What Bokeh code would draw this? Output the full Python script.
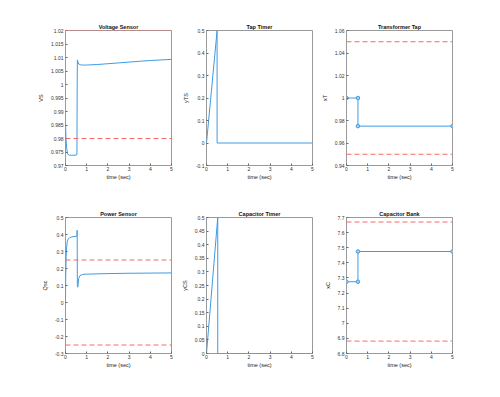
from bokeh.plotting import figure
from bokeh.layouts import column, row
from bokeh.models import Span, FixedTicker
from bokeh.embed import file_html
from bokeh.resources import INLINE

# ---------------- data ----------------
x_ticks = [0, 1, 2, 3, 4, 5]

# Voltage Sensor
t_v = [0, 0.02, 0.04, 0.06, 0.08, 0.1, 0.15, 0.2, 0.3, 0.4, 0.5, 0.54, 0.55, 0.56,
       0.58, 0.62, 0.7, 0.8, 1.0, 1.5, 2, 2.5, 3, 3.5, 4, 4.5, 5]
v_s = [0.9855, 0.981, 0.978, 0.9762, 0.975, 0.9743, 0.9739, 0.9738, 0.9738, 0.9738,
       0.9739, 0.9740, 0.9990, 1.0091, 1.0085, 1.0076, 1.0073, 1.0072, 1.0072, 1.0074,
       1.0077, 1.0080, 1.0083, 1.0086, 1.0089, 1.0091, 1.0093]
v_limits = [0.98, 1.02]
v_ticks = [0.97, 0.975, 0.98, 0.985, 0.99, 0.995, 1.0, 1.005, 1.01, 1.015, 1.02]
v_labels = ["0.97", "0.975", "0.98", "0.985", "0.99", "0.995", "1", "1.005", "1.01", "1.015", "1.02"]

# Tap Timer
t_tt = [0, 0.5, 0.5, 5]
y_tt = [0, 0.5, 0, 0]
tt_ticks = [-0.1, 0.0, 0.1, 0.2, 0.3, 0.4, 0.5]
tt_labels = ["-0.1", "0", "0.1", "0.2", "0.3", "0.4", "0.5"]

# Transformer Tap
t_xt = [0, 0.54, 0.54, 5]
y_xt = [1.0, 1.0, 0.975, 0.975]
xt_limits = [0.95, 1.05]
xt_ticks = [0.94, 0.96, 0.98, 1.0, 1.02, 1.04, 1.06]
xt_labels = ["0.94", "0.96", "0.98", "1", "1.02", "1.04", "1.06"]

# Power Sensor
t_q = [0, 0.01, 0.03, 0.05, 0.08, 0.12, 0.2, 0.3, 0.4, 0.5, 0.54, 0.55, 0.56, 0.58,
       0.62, 0.68, 0.8, 1.0, 2, 3, 4, 5]
q_s = [0.0, 0.15, 0.27, 0.32, 0.355, 0.372, 0.382, 0.386, 0.388, 0.389, 0.390, 0.425,
       0.10, 0.09, 0.14, 0.158, 0.165, 0.167, 0.170, 0.172, 0.173, 0.174]
q_limits = [-0.25, 0.25]
q_ticks = [-0.3, -0.2, -0.1, 0.0, 0.1, 0.2, 0.3, 0.4, 0.5]
q_labels = ["-0.3", "-0.2", "-0.1", "0", "0.1", "0.2", "0.3", "0.4", "0.5"]

# Capacitor Timer
t_ct = [0, 0.53, 0.53, 5]
y_ct = [0, 0.5, 0, 0]
ct_ticks = [0.0, 0.05, 0.1, 0.15, 0.2, 0.25, 0.3, 0.35, 0.4, 0.45, 0.5]
ct_labels = ["0", "0.05", "0.1", "0.15", "0.2", "0.25", "0.3", "0.35", "0.4", "0.45", "0.5"]

# Capacitor Bank
t_cb = [0, 0.54, 0.54, 5]
y_cb = [7.275, 7.275, 7.475, 7.475]
cb_limits = [6.882, 7.67]
cb_ticks = [6.8, 6.9, 7.0, 7.1, 7.2, 7.3, 7.4, 7.5, 7.6, 7.7]
cb_labels = ["6.8", "6.9", "7", "7.1", "7.2", "7.3", "7.4", "7.5", "7.6", "7.7"]

# ---------------- style ----------------
BLUE = "#3d9be2"
RED = "#f46a6a"
FONT = "Liberation Sans"
FRAME = "#9a9a9a"


def make(title, ylabel, yr, yticks, ylabels, bl, br, bt, bb, fh):
    p = figure(frame_width=106, frame_height=fh, x_range=(0, 5), y_range=yr,
               output_backend="svg", toolbar_location=None,
               min_border_left=bl, min_border_right=br,
               min_border_top=bt, min_border_bottom=bb)
    p.title.text = title
    p.title.align = "center"
    p.title.text_font = FONT
    p.title.text_font_size = "5.5px"
    p.title.text_font_style = "bold"
    p.title.text_color = "#111111"
    p.title.standoff = 1
    p.outline_line_color = FRAME
    p.outline_line_width = 1
    p.xgrid.visible = False
    p.ygrid.visible = False
    p.xaxis.ticker = FixedTicker(ticks=x_ticks)
    p.yaxis.ticker = FixedTicker(ticks=yticks)
    p.yaxis.major_label_overrides = dict(zip(yticks, ylabels))
    p.xaxis.axis_label = "time (sec)"
    p.yaxis.axis_label = ylabel
    for ax in (p.xaxis, p.yaxis):
        ax.axis_line_color = None
        ax.major_tick_in = 2
        ax.major_tick_out = 0
        ax.major_tick_line_color = "#666666"
        ax.minor_tick_line_color = None
        ax.major_label_text_font = FONT
        ax.major_label_text_font_size = "5px"
        ax.major_label_text_color = "#333333"
        ax.axis_label_text_font = FONT
        ax.axis_label_text_font_size = "5.5px"
        ax.axis_label_text_font_style = "normal"
        ax.axis_label_text_color = "#222222"
    p.xaxis.major_label_standoff = 1
    p.xaxis.axis_label_standoff = 0
    p.yaxis.major_label_standoff = 2
    p.yaxis.axis_label_standoff = 4
    return p


def limits(p, vals):
    for v in vals:
        p.add_layout(Span(location=v, dimension="width", line_color=RED,
                          line_dash="5 3", line_width=1))


p1 = make("Voltage Sensor", "VS", (0.97, 1.02), v_ticks, v_labels, 65, 5, 30, 30, 135)
limits(p1, v_limits)
p1.line(t_v, v_s, line_color=BLUE, line_width=1)

p2 = make("Tap Timer", "yTS", (-0.1, 0.5), tt_ticks, tt_labels, 30, 5, 30, 30, 135)
p2.line(t_tt, y_tt, line_color=BLUE, line_width=1)

p3 = make("Transformer Tap", "xT", (0.94, 1.06), xt_ticks, xt_labels, 29, 10, 30, 30, 135)
limits(p3, xt_limits)
p3.line(t_xt, y_xt, line_color=BLUE, line_width=1)
p3.scatter(t_xt, y_xt, marker="circle", size=3.5, line_color=BLUE, fill_color="#a8d3f3")

p4 = make("Power Sensor", "Qsc", (-0.3, 0.5), q_ticks, q_labels, 65, 5, 22, 30, 136)
limits(p4, q_limits)
p4.line(t_q, q_s, line_color=BLUE, line_width=1)

p5 = make("Capacitor Timer", "yCS", (0, 0.5), ct_ticks, ct_labels, 30, 5, 22, 30, 136)
p5.line(t_ct, y_ct, line_color=BLUE, line_width=1)

p6 = make("Capacitor Bank", "xC", (6.8, 7.7), cb_ticks, cb_labels, 29, 10, 22, 30, 136)
limits(p6, cb_limits)
p6.line(t_cb, y_cb, line_color=BLUE, line_width=1)
p6.scatter(t_cb, y_cb, marker="circle", size=3.5, line_color=BLUE, fill_color="#a8d3f3")

layout = column(row(p1, p2, p3), row(p4, p5, p6))

open("out.html", "w").write(file_html(layout, INLINE))
